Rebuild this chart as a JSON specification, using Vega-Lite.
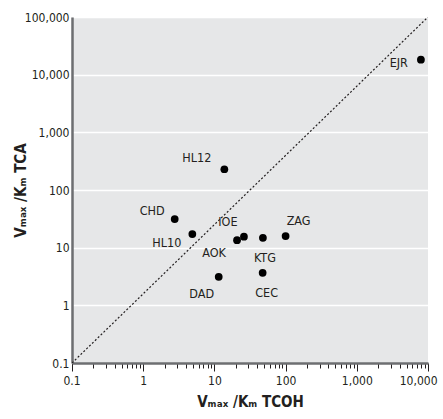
{
  "$schema": "https://vega.github.io/schema/vega-lite/v6.json",
  "width": 356,
  "height": 346,
  "autosize": {"type": "none"},
  "padding": {"left": 72, "top": 17, "right": 15, "bottom": 56},
  "background": "white",
  "config": {
    "view": {"fill": "#e6e7e8", "stroke": null},
    "font": "DejaVu Sans Condensed, Roboto, sans-serif",
    "text": {"font": "DejaVu Sans Condensed, Roboto, sans-serif", "fontSize": 12.5, "color": "#231f20"}
  },
  "datasets": {
    "pts": [
      {"id": "EJR", "tcoh": 7950, "tca": 18200},
      {"id": "HL12", "tcoh": 13.8, "tca": 229},
      {"id": "CHD", "tcoh": 2.77, "tca": 31.3},
      {"id": "HL10", "tcoh": 4.9, "tca": 17.2},
      {"id": "AOK", "tcoh": 20.8, "tca": 13.5},
      {"id": "IOE", "tcoh": 26, "tca": 15.5},
      {"id": "KTG", "tcoh": 48, "tca": 14.8},
      {"id": "ZAG", "tcoh": 100, "tca": 15.9},
      {"id": "DAD", "tcoh": 11.5, "tca": 3.13},
      {"id": "CEC", "tcoh": 47.6, "tca": 3.67}
    ],
    "diag": [
      {"tcoh": 0.1, "tca": 0.1},
      {"tcoh": 10000, "tca": 100000}
    ]
  },
  "encoding": {
    "x": {
      "field": "tcoh", "type": "quantitative",
      "scale": {"type": "log", "domain": [0.1, 10000], "nice": false},
      "axis": {
        "title": "Vₘₐₓ /Kₘ TCOH",
        "titleFont": "DejaVu Sans Condensed, Roboto, sans-serif",
        "titleFontSize": 15, "titleFontWeight": "bold", "titleColor": "#231f20",
        "titlePadding": 8,
        "values": [0.1,0.2,0.3,0.4,0.5,0.6,0.7,0.8,0.9,1,2,3,4,5,6,7,8,9,10,20,30,40,50,60,70,80,90,100,200,300,400,500,600,700,800,900,1000,2000,3000,4000,5000,6000,7000,8000,9000,10000],
        "labelExpr": "abs(round(log(datum.value)/LN10) - log(datum.value)/LN10) < 0.000001 ? (datum.value < 1 ? '0.1' : format(datum.value, ',')) : ''",
        "labelFontSize": 12, "labelColor": "#231f20", "labelPadding": 4,
        "labelFlush": true, "labelFlushOffset": 9, "labelOverlap": false,
        "grid": false,
        "domainColor": "#6d6e71", "domainWidth": 2.5,
        "tickColor": "#231f20", "tickWidth": 1,
        "tickSize": {"condition": {"test": "abs(round(log(datum.value)/LN10) - log(datum.value)/LN10) < 0.000001", "value": 8}, "value": 5}
      }
    },
    "y": {
      "field": "tca", "type": "quantitative",
      "scale": {"type": "log", "domain": [0.1, 100000], "nice": false},
      "axis": {
        "title": "Vₘₐₓ /Kₘ TCA",
        "titleFont": "DejaVu Sans Condensed, Roboto, sans-serif",
        "titleFontSize": 15, "titleFontWeight": "bold", "titleColor": "#231f20",
        "titleX": -52, "titleY": 173, "titleAngle": -90, "titleAlign": "center", "titleBaseline": "middle",
        "values": [0.1, 1, 10, 100, 1000, 10000, 100000],
        "labelExpr": "datum.value < 1 ? '0.1' : format(datum.value, ',')",
        "labelFontSize": 12, "labelColor": "#231f20", "labelPadding": 3, "labelFlush": false, "labelOverlap": false,
        "ticks": false,
        "grid": true, "gridColor": "white", "gridWidth": 1.5,
        "domainColor": "#6d6e71", "domainWidth": 2.5
      }
    }
  },
  "layer": [
    {
      "data": {"name": "diag"},
      "mark": {"type": "line", "color": "#231f20", "strokeDash": [2, 2], "strokeWidth": 1.2, "clip": true}
    },
    {
      "data": {"name": "pts"},
      "mark": {"type": "point", "filled": true, "shape": "circle", "size": 60, "color": "#000000", "opacity": 1}
    },
    {"data": {"name": "pts"}, "transform": [{"filter": "datum.id == 'EJR'"}], "mark": {"type": "text", "align": "right", "baseline": "middle", "dx": -13, "dy": 3}, "encoding": {"text": {"field": "id"}}},
    {"data": {"name": "pts"}, "transform": [{"filter": "datum.id == 'HL12'"}], "mark": {"type": "text", "align": "right", "baseline": "middle", "dx": -13, "dy": -11}, "encoding": {"text": {"field": "id"}}},
    {"data": {"name": "pts"}, "transform": [{"filter": "datum.id == 'CHD'"}], "mark": {"type": "text", "align": "right", "baseline": "middle", "dx": -10, "dy": -8}, "encoding": {"text": {"field": "id"}}},
    {"data": {"name": "pts"}, "transform": [{"filter": "datum.id == 'HL10'"}], "mark": {"type": "text", "align": "right", "baseline": "middle", "dx": -11, "dy": 9}, "encoding": {"text": {"field": "id"}}},
    {"data": {"name": "pts"}, "transform": [{"filter": "datum.id == 'IOE'"}], "mark": {"type": "text", "align": "center", "baseline": "middle", "dx": -16, "dy": -15}, "encoding": {"text": {"field": "id"}}},
    {"data": {"name": "pts"}, "transform": [{"filter": "datum.id == 'AOK'"}], "mark": {"type": "text", "align": "center", "baseline": "middle", "dx": -23, "dy": 13}, "encoding": {"text": {"field": "id"}}},
    {"data": {"name": "pts"}, "transform": [{"filter": "datum.id == 'KTG'"}], "mark": {"type": "text", "align": "center", "baseline": "middle", "dx": 2, "dy": 20}, "encoding": {"text": {"field": "id"}}},
    {"data": {"name": "pts"}, "transform": [{"filter": "datum.id == 'ZAG'"}], "mark": {"type": "text", "align": "center", "baseline": "middle", "dx": 13, "dy": -15}, "encoding": {"text": {"field": "id"}}},
    {"data": {"name": "pts"}, "transform": [{"filter": "datum.id == 'DAD'"}], "mark": {"type": "text", "align": "center", "baseline": "middle", "dx": -17, "dy": 17}, "encoding": {"text": {"field": "id"}}},
    {"data": {"name": "pts"}, "transform": [{"filter": "datum.id == 'CEC'"}], "mark": {"type": "text", "align": "center", "baseline": "middle", "dx": 4, "dy": 20}, "encoding": {"text": {"field": "id"}}}
  ]
}
